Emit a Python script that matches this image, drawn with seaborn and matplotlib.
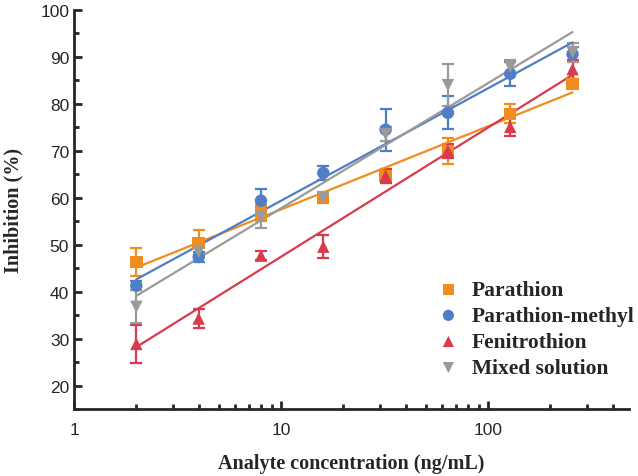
import numpy as np
import pandas as pd
import seaborn as sns
from matplotlib import pyplot as plt
from matplotlib.ticker import LogLocator, MultipleLocator, FixedLocator, NullFormatter

conc = [2, 4, 8, 16, 32, 64, 128, 256]

parathion = [46.4, 50.4, 56.6, 60.2, 64.7, 70.0, 77.9, 84.3]
parathion_err = [3.0, 2.8, 1.5, 1.0, 1.5, 2.8, 2.0, 1.0]

methyl = [41.3, 47.4, 59.4, 65.3, 74.5, 78.1, 86.4, 90.6]
methyl_err = [1.0, 1.0, 2.5, 1.5, 4.5, 3.5, 2.5, 1.5]

fenitro = [28.9, 34.3, 47.7, 49.6, 64.7, 70.0, 75.1, 87.4]
fenitro_err = [4.0, 2.0, 1.0, 2.5, 1.5, 1.5, 2.0, 2.0]

mixed = [36.8, 48.5, 56.0, 60.0, 73.6, 84.0, 87.9, 91.0]
mixed_err = [3.5, 1.0, 2.5, 1.0, 1.5, 4.5, 1.5, 2.0]

names = ["Parathion", "Parathion-methyl", "Fenitrothion", "Mixed solution"]
colors = ["#F28C1E", "#4F7EC6", "#D83A4E", "#9A9A9A"]
markers = ["s", "o", "^", "v"]

df = pd.concat([
    pd.DataFrame({"conc": conc, "inh": v, "err": e, "series": n})
    for n, v, e in zip(names, [parathion, methyl, fenitro, mixed],
                       [parathion_err, methyl_err, fenitro_err, mixed_err])
])

sns.set_style("ticks")
fig = plt.figure(figsize=(6.38, 4.77), dpi=100)
ax = fig.add_axes([0.116, 0.14, 0.87, 0.837])

for name, c, m in zip(names, colors, markers):
    d = df[df["series"] == name]
    ax.errorbar(d["conc"], d["inh"], yerr=d["err"], fmt="none", ecolor=c,
                elinewidth=1.6, capsize=4, capthick=1.6, zorder=2)
    sns.regplot(data=d, x="conc", y="inh", logx=True, ci=None, scatter=False,
                color=c, line_kws={"lw": 1.6, "zorder": 3}, ax=ax)
    sns.scatterplot(data=d, x="conc", y="inh", color=c, marker=m, s=80,
                    edgecolor="none", label=name, zorder=4, ax=ax)

ax.set_xscale("log")
ax.set_xlim(1, 480)
ax.set_ylim(15, 100)
ax.xaxis.set_major_locator(FixedLocator([1, 10, 100]))
ax.xaxis.set_major_formatter(plt.FuncFormatter(lambda v, p: f"{v:g}"))
ax.xaxis.set_minor_locator(LogLocator(base=10, subs=np.arange(2, 10)))
ax.xaxis.set_minor_formatter(NullFormatter())
ax.yaxis.set_major_locator(MultipleLocator(10))
ax.yaxis.set_minor_locator(MultipleLocator(5))
ax.set_yticks(range(20, 101, 10))

for s in ["top", "right"]:
    ax.spines[s].set_visible(False)
for s in ["left", "bottom"]:
    ax.spines[s].set_linewidth(2)

ax.tick_params(which="major", direction="in", length=6, width=2,
               labelsize=12.5, labelfontfamily="Liberation Sans")
ax.tick_params(which="minor", direction="in", length=3.5, width=2)
ax.tick_params(axis="x", pad=9)

font_lab = {"family": "Liberation Serif", "weight": "bold", "size": 14.5}
ax.set_xlabel("Analyte concentration (ng/mL)", fontdict=font_lab, labelpad=12)
ax.set_ylabel("Inhibition (%)", fontdict=font_lab, labelpad=12)

leg = ax.legend(loc="lower right", bbox_to_anchor=(0.995, 0.205),
                bbox_transform=fig.transFigure, frameon=False,
                borderpad=0, borderaxespad=0,
                prop={"family": "Liberation Serif", "weight": "bold", "size": 15.5},
                handletextpad=0.3, handlelength=1.6, labelspacing=0.28,
                markerscale=0.9)

plt.savefig("out.png", dpi=100)
